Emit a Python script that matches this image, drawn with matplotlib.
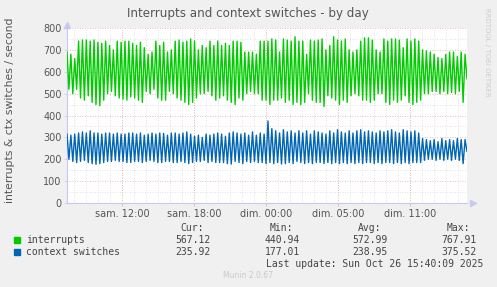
import numpy as np
import matplotlib
matplotlib.use('Agg')
import matplotlib.pyplot as plt

# values, one peak / trough per spike
intr_peaks = [690, 680, 660, 740, 745, 745, 740, 745, 735, 730, 740, 720, 700,
              740, 735, 740, 740, 730, 720, 735, 710, 680, 690, 740, 720, 735,
              690, 700, 740, 745, 735, 740, 750, 740, 700, 720, 710, 740, 720,
              740, 720, 730, 720, 740, 740, 735, 690, 690, 690, 680, 740, 740,
              740, 750, 745, 690, 750, 745, 740, 760, 740, 740, 680, 745, 740,
              745, 750, 700, 720, 760, 745, 740, 750, 700, 690, 700, 740, 755,
              755, 745, 700, 690, 750, 740, 750, 750, 745, 710, 750, 740, 750,
              740, 700, 695, 690, 680, 665, 660, 680, 690, 690, 670, 690, 680]
intr_troughs = [520, 500, 520, 480, 470, 490, 460, 450, 445, 470, 500, 510, 490,
                480, 475, 470, 485, 480, 470, 460, 510, 500, 520, 480, 470, 470,
                510, 500, 480, 470, 460, 450, 460, 480, 500, 500, 510, 490, 470,
                480, 490, 470, 460, 450, 480, 470, 500, 510, 500, 500, 470, 470,
                450, 470, 470, 480, 460, 470, 450, 460, 450, 460, 500, 470, 460,
                460, 441, 490, 480, 470, 450, 470, 460, 490, 500, 490, 470, 470,
                460, 470, 500, 500, 460, 450, 470, 460, 470, 490, 460, 450, 460,
                470, 500, 500, 510, 510, 500, 510, 500, 505, 500, 510, 460, 567]

ctx_peaks = [315, 310, 315, 320, 325, 320, 330, 320, 320, 315, 320, 320, 315,
             320, 315, 315, 320, 320, 315, 320, 310, 315, 320, 315, 320, 318,
             310, 320, 320, 315, 320, 325, 315, 305, 310, 300, 315, 310, 315,
             320, 315, 305, 320, 325, 320, 315, 320, 310, 325, 310, 320, 315,
             375, 340, 330, 320, 335, 325, 330, 320, 330, 320, 330, 315, 330,
             325, 320, 315, 330, 320, 335, 325, 320, 330, 320, 330, 335, 325,
             330, 325, 320, 330, 325, 330, 335, 325, 320, 335, 330, 325, 330,
             320, 295, 290, 285, 290, 280, 295, 285, 290, 285, 295, 290, 290]
ctx_troughs = [200, 190, 185, 190, 195, 185, 180, 177, 180, 185, 190, 190, 195,
               190, 190, 185, 185, 190, 190, 185, 190, 195, 190, 185, 185, 190,
               190, 185, 185, 190, 185, 180, 185, 190, 190, 195, 185, 190, 185,
               185, 185, 180, 178, 190, 185, 180, 190, 185, 190, 185, 185, 180,
               185, 180, 185, 178, 180, 185, 180, 190, 185, 180, 185, 180, 185,
               185, 180, 185, 180, 185, 180, 185, 180, 185, 180, 185, 180, 185,
               185, 180, 185, 180, 185, 185, 180, 185, 180, 185, 180, 185, 185,
               185, 195, 200, 200, 195, 200, 195, 200, 195, 200, 195, 180, 236]

span = 400 / 12.0   # hours shown
tick_pos = [4.583, 10.583, 16.583, 22.583, 28.583]
tick_labels = ['sam. 12:00', 'sam. 18:00', 'dim. 00:00', 'dim. 05:00', 'dim. 11:00']

legend_names = ['interrupts', 'context switches']
cur = ['567.12', '235.92']
mins = ['440.94', '177.01']
avgs = ['572.99', '238.95']
maxs = ['767.91', '375.52']
colors = ['#00cc00', '#0066b3']

def zigzag(peaks, troughs):
    out = []
    for p, t in zip(peaks, troughs):
        out.append(p)
        out.append(t)
    return np.array(out, dtype=float)

W, H = 497, 287
fig = plt.figure(figsize=(W / 100, H / 100), dpi=100, facecolor='#f0f0f0')
ax = fig.add_axes([67 / W, 1 - 203 / H, 400 / W, 175 / H])
ax.set_facecolor('white')

intr = zigzag(intr_peaks, intr_troughs)
ctx = zigzag(ctx_peaks, ctx_troughs)
x1 = np.linspace(0, span, len(intr))
x2 = np.linspace(0, span, len(ctx))

# grid
for v in range(50, 800, 100):
    ax.axhline(v, color='#d8d8d8', lw=0.6, ls=(0, (1, 2)), zorder=1)
for v in range(100, 900, 100):
    ax.axhline(v, color='#e8a8a8', lw=0.6, ls=(0, (1, 2)), zorder=1)
h = tick_pos[0] % 1
while h < span:
    ax.axvline(h, color='#d8d8d8', lw=0.6, ls=(0, (1, 2)), zorder=1)
    h += 1
for t in tick_pos:
    ax.axvline(t, color='#e8a8a8', lw=0.6, ls=(0, (1, 2)), zorder=1)

ax.plot(x1, intr, color=colors[0], lw=1.0, zorder=3)
ax.plot(x2, ctx, color=colors[1], lw=1.0, zorder=3)

ax.set_xlim(0, span)
ax.set_ylim(0, 800)
ax.set_xticks(tick_pos)
ax.set_xticklabels(tick_labels)
ax.set_yticks(range(0, 900, 100))
ax.tick_params(axis='both', labelsize=7, colors='#555555', length=2, width=0.5,
               pad=2)
ax.tick_params(axis='x', color='#e8a8a8')
ax.tick_params(axis='y', color='#c8c8f0')
for s in ['top', 'right']:
    ax.spines[s].set_visible(False)
for s in ['left', 'bottom']:
    ax.spines[s].set_color('#c8c8f0')
    ax.spines[s].set_linewidth(0.8)
ax.plot([0], [815], marker='^', color='#c8c8f0', ms=4, clip_on=False, zorder=5)
ax.plot([span + 0.5], [0], marker='>', color='#c8c8f0', ms=4, clip_on=False, zorder=5)

fig.text(248 / W, 1 - 13 / H, 'Interrupts and context switches - by day',
         ha='center', va='center', fontsize=8.6, color='#555555')
fig.text(10 / W, 1 - 110 / H, 'interrupts & ctx switches / second', rotation=90,
         ha='center', va='center', fontsize=7.8, color='#555555')
fig.text(487 / W, 1 - 52 / H, 'RRDTOOL / TOBI OETIKER', rotation=270,
         ha='center', va='center', fontsize=5, color='#cccccc')

mono = 'DejaVu Sans Mono'
fs = 7
fig.text(204 / W, 1 - 228 / H, 'Cur:', ha='right', va='center', family=mono, fontsize=fs, color='#444444')
fig.text(293 / W, 1 - 228 / H, 'Min:', ha='right', va='center', family=mono, fontsize=fs, color='#444444')
fig.text(381 / W, 1 - 228 / H, 'Avg:', ha='right', va='center', family=mono, fontsize=fs, color='#444444')
fig.text(470 / W, 1 - 228 / H, 'Max:', ha='right', va='center', family=mono, fontsize=fs, color='#444444')
rows = [240, 252]
for i in range(2):
    y = 1 - rows[i] / H
    fig.patches.append(plt.Rectangle((14 / W, y - 3 / H), 6 / W, 6 / H,
                                     transform=fig.transFigure, color=colors[i]))
    fig.text(26 / W, y, legend_names[i], ha='left', va='center', family=mono, fontsize=fs, color='#444444')
    fig.text(211 / W, y, cur[i], ha='right', va='center', family=mono, fontsize=fs, color='#444444')
    fig.text(300 / W, y, mins[i], ha='right', va='center', family=mono, fontsize=fs, color='#444444')
    fig.text(388 / W, y, avgs[i], ha='right', va='center', family=mono, fontsize=fs, color='#444444')
    fig.text(477 / W, y, maxs[i], ha='right', va='center', family=mono, fontsize=fs, color='#444444')
fig.text(483 / W, 1 - 264 / H, 'Last update: Sun Oct 26 15:40:09 2025', ha='right',
         va='center', family=mono, fontsize=fs, color='#444444')
fig.text(248 / W, 1 - 276 / H, 'Munin 2.0.67', ha='center', va='center',
         fontsize=5.5, color='#c8c8c8')

fig.savefig('out.png', dpi=100, facecolor=fig.get_facecolor())
